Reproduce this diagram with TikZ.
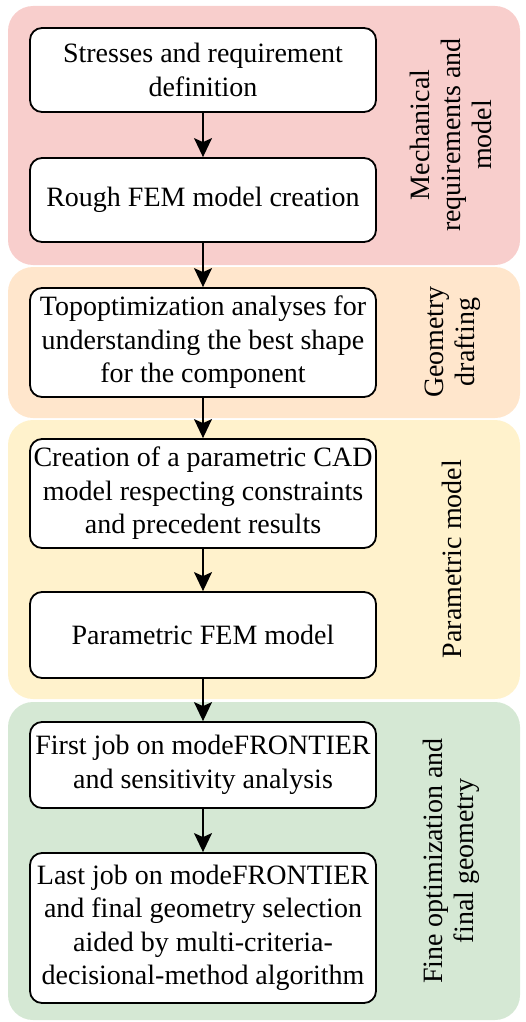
\documentclass[tikz,border=0pt]{standalone}
\usepackage{fontspec}
\newfontfamily\timesfont{LiberationSerif-Regular.ttf}
\usetikzlibrary{arrows.meta}
\definecolor{pRed}{HTML}{F8CECC}
\definecolor{pOrange}{HTML}{FFE6CC}
\definecolor{pYellow}{HTML}{FFF2CC}
\definecolor{pGreen}{HTML}{D5E8D4}
\tikzset{
  panel/.style={rounded corners=25pt, draw=none},
  stepbox/.style={draw=black, line width=1.8pt, fill=white, rounded corners=12pt,
    minimum width=346pt, align=center, inner sep=0pt,
    font=\timesfont\fontsize{28}{33.5}\selectfont},
  sidelabel/.style={rotate=90, align=center, font=\timesfont\fontsize{28}{31}\selectfont},
  flow/.style={draw=black, line width=1.5pt, -{Stealth[length=19pt,width=18pt,inset=4pt]}}
}
\begin{document}
\begin{tikzpicture}[x=1pt,y=-1pt]
\useasboundingbox (0,0) rectangle (525,1022);
% panels
\fill[panel, pRed] (8,6) rectangle (520,265);
\fill[panel, pOrange] (8,267) rectangle (520,418);
\fill[panel, pYellow] (8,420) rectangle (520,699);
\fill[panel, pGreen] (8,702) rectangle (520,1020);
% side labels
\node[sidelabel] (l1) at (451,135) {Mechanical\\requirements and\\model};
\node[sidelabel] (l2) at (453,342) {Geometry\\drafting};
\node[sidelabel] (l3) at (452,559) {Parametric model};
\node[sidelabel] (l4) at (451,861) {Fine optimization and\\final geometry};
% boxes
\node[stepbox, minimum height=84pt] (b1) at (203,70) {Stresses and requirement\\definition};
\node[stepbox, minimum height=84pt] (b2) at (203,200) {Rough FEM model creation};
\node[stepbox, minimum height=109pt] (b3) at (203,342.5) {Topoptimization analyses for\\understanding the best shape\\for the component};
\node[stepbox, minimum height=109pt] (b4) at (203,493.5) {Creation of a parametric CAD\\model respecting constraints\\and precedent results};
\node[stepbox, minimum height=86pt] (b5) at (203,635) {Parametric FEM model};
\node[stepbox, minimum height=86pt] (b6) at (203,765) {First job on modeFRONTIER\\and sensitivity analysis};
\node[stepbox, minimum height=150pt] (b7) at (203,928) {Last job on modeFRONTIER\\and final geometry selection\\aided by multi-criteria-\\decisional-method algorithm};
% arrows
\draw[flow] (b1) -- (b2);
\draw[flow] (b2) -- (b3);
\draw[flow] (b3) -- (b4);
\draw[flow] (b4) -- (b5);
\draw[flow] (b5) -- (b6);
\draw[flow] (b6) -- (b7);
\end{tikzpicture}
\end{document}
